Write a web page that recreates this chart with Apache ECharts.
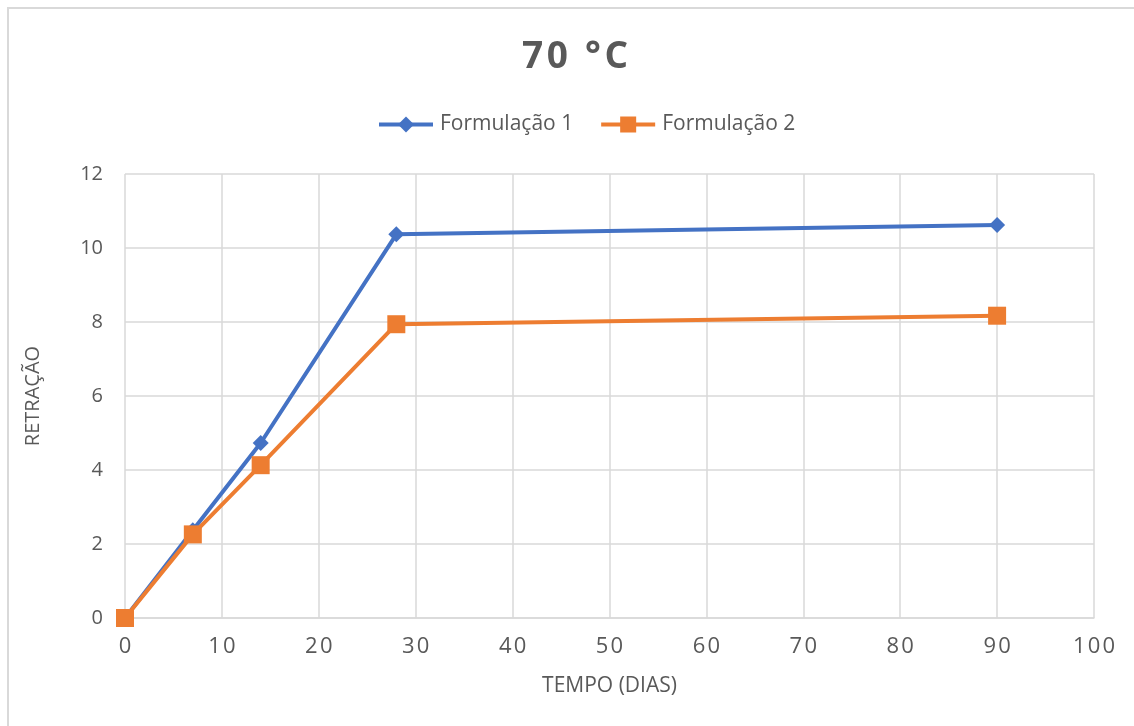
<!DOCTYPE html>
<html>
<head>
<meta charset="utf-8">
<script src="https://cdn.jsdelivr.net/npm/echarts@6/dist/echarts.min.js"></script>
<style>
  html, body { margin: 0; padding: 0; background: #fff; overflow: hidden; }
  #frame { position: absolute; left: 7px; top: 7px; width: 1140px; height: 730px;
           border-left: 2px solid #d9d9d9; border-top: 2px solid #d9d9d9; box-sizing: border-box; }
  #chart { position: absolute; left: 0; top: 0; width: 1134px; height: 726px; }
</style>
</head>
<body>
<div id="frame"></div>
<div id="chart"></div>
<script>
// Retração medida ao longo do tempo (dias) a 70 °C
const dias = [0, 7, 14, 28, 90];
const formulacao1 = [0, 2.37, 4.73, 10.37, 10.62];
const formulacao2 = [0, 2.26, 4.13, 7.94, 8.17];
const seriesNames = ['Formulação 1', 'Formulação 2'];
const titulo = '70 °C';

const pairs = (xs, ys) => xs.map((x, i) => [x, ys[i]]);
// spread characters slightly apart with hair spaces
const spaced = s => String(s).split('').join('\u200A');
const textColor = '#595959';
const gridColor = '#d9d9d9';
const fontFamily = '"Open Sans", "Noto Sans", sans-serif';

const chart = echarts.init(document.getElementById('chart'), null, { renderer: 'canvas' });
chart.setOption({
  animation: false,
  backgroundColor: 'transparent',
  title: {
    text: spaced(titulo),
    left: 517,
    top: 34,
    textStyle: { fontSize: 37, fontWeight: 'bold', color: textColor, fontFamily: fontFamily }
  },
  legend: {
    data: seriesNames,
    top: 109,
    left: 372,
    itemWidth: 54,
    itemHeight: 20,
    itemGap: 26,
    lineStyle: { width: 4 },
    textStyle: { fontSize: 21, color: textColor, fontFamily: fontFamily, padding: [0, 0, 0, 2] }
  },
  grid: { left: 125, right: 40, top: 174, bottom: 108, containLabel: false },
  xAxis: {
    type: 'value',
    min: 0, max: 100, interval: 10,
    name: 'TEMPO (DIAS)',
    nameLocation: 'middle',
    nameGap: 58,
    nameTextStyle: { fontSize: 21, color: textColor, fontFamily: fontFamily },
    axisLine: { show: true, lineStyle: { color: gridColor, width: 1.5 } },
    axisTick: { show: false },
    axisLabel: { fontSize: 22, color: textColor, fontFamily: fontFamily, margin: 18,
                 formatter: v => spaced(v) },
    splitLine: { show: true, lineStyle: { color: gridColor, width: 1.5 } }
  },
  yAxis: {
    type: 'value',
    min: 0, max: 12, interval: 2,
    name: 'RETRAÇÃO',
    nameLocation: 'middle',
    nameGap: 82,
    nameRotate: 90,
    nameTextStyle: { fontSize: 20, color: textColor, fontFamily: fontFamily },
    axisLine: { show: false },
    axisTick: { show: false },
    axisLabel: { fontSize: 20, color: textColor, fontFamily: fontFamily, margin: 22 },
    splitLine: { show: true, lineStyle: { color: gridColor, width: 1.5 } }
  },
  series: [
    {
      name: seriesNames[0],
      type: 'line',
      data: pairs(dias, formulacao1),
      symbol: 'diamond',
      symbolSize: 16,
      color: '#4472c4',
      lineStyle: { width: 4, color: '#4472c4' },
      itemStyle: { color: '#4472c4' },
      z: 2
    },
    {
      name: seriesNames[1],
      type: 'line',
      data: pairs(dias, formulacao2),
      symbol: 'rect',
      symbolSize: 18,
      color: '#ed7d31',
      lineStyle: { width: 4, color: '#ed7d31' },
      itemStyle: { color: '#ed7d31' },
      z: 3
    }
  ]
});
</script>
</body>
</html>
